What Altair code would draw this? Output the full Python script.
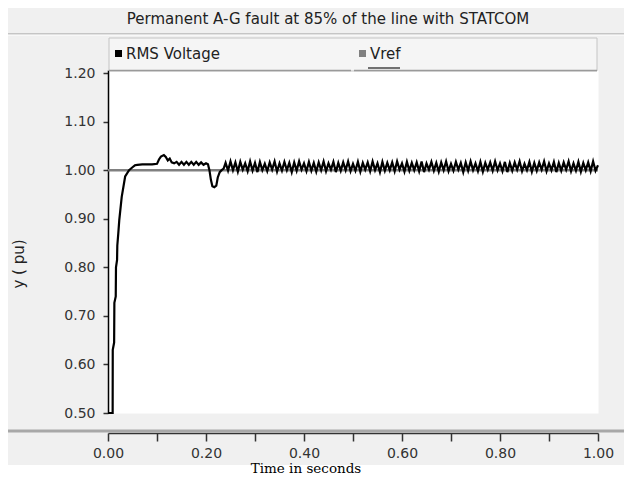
import altair as alt
import pandas as pd

# ---------------- data ----------------
series_names = ["RMS Voltage", "Vref"]
series_colors = ["#000000", "#808080"]

chart_title = "Permanent A-G fault at 85% of the line with STATCOM"
y_title = "y ( pu)"
x_title = "Time in seconds"

x_ticks = [0.0, 0.1, 0.2, 0.3, 0.4, 0.5, 0.6, 0.7, 0.8, 0.9, 1.0]
y_ticks = [0.5, 0.6, 0.7, 0.8, 0.9, 1.0, 1.1, 1.2]

# RMS voltage: start-up transient, bump, dip after fault, then ripple
rms_t = [
    0.000, 0.0095, 0.0097, 0.0125, 0.0130, 0.0158, 0.0163, 0.0185, 0.0190, 0.0210,
    0.0230, 0.0280, 0.0350, 0.0430, 0.0500, 0.0550, 0.0600, 0.0700, 0.0800, 0.0900,
    0.1000, 0.1040, 0.1080, 0.1140, 0.1180, 0.1220, 0.1260, 0.1300, 0.1350,
    0.140, 0.145, 0.150, 0.155, 0.160, 0.165, 0.170, 0.175, 0.180, 0.185,
    0.190, 0.195, 0.200, 0.204,
    0.207, 0.210, 0.213, 0.217, 0.221, 0.224, 0.228, 0.232, 0.236,
    0.240, 0.245, 0.250, 0.255, 0.260, 0.265, 0.270, 0.275, 0.280, 0.285,
    0.290, 0.295, 0.300, 0.305, 0.310, 0.315, 0.320, 0.325, 0.330, 0.335,
    0.340, 0.345, 0.350, 0.355, 0.360, 0.365, 0.370, 0.375, 0.380, 0.385,
    0.390, 0.395, 0.400, 0.405, 0.410, 0.415, 0.420, 0.425, 0.430, 0.435,
    0.440, 0.445, 0.450, 0.455, 0.460, 0.465, 0.470, 0.475, 0.480, 0.485,
    0.490, 0.495, 0.500, 0.505, 0.510, 0.515, 0.520, 0.525, 0.530, 0.535,
    0.540, 0.545, 0.550, 0.555, 0.560, 0.565, 0.570, 0.575, 0.580, 0.585,
    0.590, 0.595, 0.600, 0.605, 0.610, 0.615, 0.620, 0.625, 0.630, 0.635,
    0.640, 0.645, 0.650, 0.655, 0.660, 0.665, 0.670, 0.675, 0.680, 0.685,
    0.690, 0.695, 0.700, 0.705, 0.710, 0.715, 0.720, 0.725, 0.730, 0.735,
    0.740, 0.745, 0.750, 0.755, 0.760, 0.765, 0.770, 0.775, 0.780, 0.785,
    0.790, 0.795, 0.800, 0.805, 0.810, 0.815, 0.820, 0.825, 0.830, 0.835,
    0.840, 0.845, 0.850, 0.855, 0.860, 0.865, 0.870, 0.875, 0.880, 0.885,
    0.890, 0.895, 0.900, 0.905, 0.910, 0.915, 0.920, 0.925, 0.930, 0.935,
    0.940, 0.945, 0.950, 0.955, 0.960, 0.965, 0.970, 0.975, 0.980, 0.985,
    0.990, 0.995, 1.000,
]
rms_v = [
    0.500, 0.500, 0.630, 0.645, 0.727, 0.740, 0.800, 0.815, 0.845, 0.870,
    0.897, 0.945, 0.987, 1.000, 1.006, 1.010, 1.011, 1.012, 1.012, 1.012,
    1.013, 1.022, 1.028, 1.031, 1.027, 1.020, 1.024, 1.016, 1.014,
    1.017, 1.011, 1.017, 1.011, 1.017, 1.011, 1.017, 1.011, 1.017, 1.011,
    1.016, 1.011, 1.014, 1.012,
    1.000, 0.980, 0.967, 0.965, 0.968, 0.985, 0.996, 1.000, 1.003,
    1.015, 0.999, 1.018, 1.000, 1.016, 0.997, 1.017, 1.001, 1.014, 0.998,
    1.018, 0.999, 1.015, 0.996, 1.017, 1.000, 1.013, 0.998, 1.016, 1.001,
    1.018, 0.997, 1.014, 0.999, 1.017, 1.000, 1.015, 0.996, 1.016, 0.999,
    1.018, 1.001, 1.014, 0.998, 1.017, 0.999, 1.015, 0.997, 1.016, 1.000,
    1.018, 0.998, 1.014, 1.001, 1.017, 0.996, 1.015, 0.999, 1.016, 1.000,
    1.018, 0.998, 1.013, 0.999, 1.017, 0.997, 1.015, 1.001, 1.016, 0.998,
    1.018, 1.000, 1.014, 0.996, 1.017, 0.999, 1.015, 1.000, 1.016, 0.998,
    1.018, 1.001, 1.014, 0.997, 1.017, 0.999, 1.015, 1.000, 1.016, 0.998,
    1.018, 0.996, 1.014, 1.001, 1.017, 0.999, 1.015, 0.997, 1.016, 1.000,
    1.018, 0.998, 1.013, 0.999, 1.017, 1.001, 1.015, 0.996, 1.016, 0.999,
    1.018, 1.000, 1.014, 0.998, 1.017, 0.997, 1.015, 1.001, 1.016, 0.999,
    1.018, 1.000, 1.014, 0.998, 1.017, 0.996, 1.015, 0.999, 1.016, 1.001,
    1.018, 0.998, 1.013, 1.000, 1.017, 0.997, 1.015, 0.999, 1.016, 1.001,
    1.018, 0.998, 1.014, 1.000, 1.017, 0.996, 1.015, 0.999, 1.016, 1.001,
    1.018, 0.998, 1.014, 0.999, 1.017, 0.997, 1.015, 1.000, 1.016, 0.998,
    1.018, 0.999, 1.010,
]

vref_t = [0.0, 1.0]
vref_v = [1.0, 1.0]

rms_df = pd.DataFrame({"t": rms_t, "v": rms_v, "series": series_names[0]})
vref_df = pd.DataFrame({"t": vref_t, "v": vref_v, "series": series_names[1]})
one_row = pd.DataFrame({"k": [0]})

# ---------------- layout (pixels) ----------------
W, H = 490, 343
FONT = "DejaVu Sans"

x_enc = alt.X(
    "t:Q",
    scale=alt.Scale(domain=[0, 1], nice=False, zero=False),
    axis=alt.Axis(
        values=x_ticks, format=".2f",
        labelExpr="round(datum.value*10) % 2 == 0 ? datum.label : ''",
        grid=False, offset=20, domainColor="#333333", domainWidth=1.5,
        tickColor="#333333", tickWidth=1.5, tickSize=8, labelFlush=False,
        labelFont=FONT, labelFontSize=14, labelColor="#333333", labelPadding=5,
        title=None,
    ),
)
y_enc = alt.Y(
    "v:Q",
    scale=alt.Scale(domain=[0.5, 1.2062], nice=False, zero=False),
    axis=alt.Axis(
        values=y_ticks, format=".2f", grid=False, title=None,
        domainColor="#000000", domainWidth=1.5, tickColor="#333333",
        tickSize=5, tickWidth=1.5, labelFont=FONT, labelFontSize=14,
        labelColor="#333333", labelPadding=8, labelFlush=False,
    ),
)
color_enc = alt.Color(
    "series:N",
    scale=alt.Scale(domain=series_names, range=series_colors),
    legend=alt.Legend(
        title=None, orient="none", legendX=3, legendY=-24,
        direction="horizontal", symbolType="square", symbolSize=9,
        symbolStrokeWidth=4, labelFont=FONT, labelFontSize=15,
        labelColor="#222222", columnPadding=133, labelOffset=0, padding=0,
    ),
)

vref_line = alt.Chart(vref_df).mark_line(strokeWidth=2.5).encode(
    x=x_enc, y=y_enc, color=color_enc
)
rms_line = alt.Chart(rms_df).mark_line(strokeWidth=2.2).encode(
    x=x_enc, y=y_enc, color=color_enc
)

base = alt.Chart(one_row)
bottom_white = base.mark_rect(color="white").encode(
    x=alt.value(-100), x2=alt.value(520), y=alt.value(395), y2=alt.value(410)
)
separator = base.mark_rule(color="#a8a8a8", strokeWidth=3).encode(
    x=alt.value(-100), x2=alt.value(520), y=alt.value(361)
)
title_line = base.mark_rule(color="#9a9a9a", strokeWidth=1).encode(
    x=alt.value(-100), x2=alt.value(520), y=alt.value(-36)
)
title_line2 = base.mark_rule(color="#ffffff", strokeWidth=1).encode(
    x=alt.value(-100), x2=alt.value(520), y=alt.value(-35)
)
legend_box = base.mark_rect(fill="#f5f5f5", stroke="#c4c4c4", strokeWidth=1).encode(
    x=alt.value(1), x2=alt.value(489), y=alt.value(-32), y2=alt.value(1)
)
legend_bottom_a = base.mark_rule(color="#9a9a9a", strokeWidth=1.5).encode(
    x=alt.value(1), x2=alt.value(243), y=alt.value(0.5)
)
legend_bottom_b = base.mark_rule(color="#9a9a9a", strokeWidth=1.5).encode(
    x=alt.value(246), x2=alt.value(489), y=alt.value(0.5)
)
title_text = base.mark_text(
    text=chart_title, font=FONT, fontSize=15, color="#222222",
    align="center", baseline="middle",
).encode(x=alt.value(220), y=alt.value(-51))
y_title_text = base.mark_text(
    text=y_title, font=FONT, fontSize=15, color="#222222", angle=270,
    align="center", baseline="middle",
).encode(x=alt.value(-89), y=alt.value(194))
x_title_text = base.mark_text(
    text=x_title, font="DejaVu Serif", fontSize=13.5, color="#000000",
    align="center", baseline="middle",
).encode(x=alt.value(198), y=alt.value(399))
vref_underline = base.mark_rule(color="#444444", strokeWidth=1.5).encode(
    x=alt.value(260), x2=alt.value(292), y=alt.value(-2)
)

chart = alt.layer(
    bottom_white, separator, title_line, title_line2, legend_box,
    legend_bottom_a, legend_bottom_b, title_text, y_title_text, x_title_text,
    vref_line, rms_line, vref_underline,
).properties(
    width=W, height=H, autosize="none",
    padding={"left": 100, "top": 62, "right": 26, "bottom": 63},
    background="#f0f0f0",
).configure_view(fill="white", stroke="transparent")

chart.save("out.html", embed_options={"renderer": "svg", "actions": False})
